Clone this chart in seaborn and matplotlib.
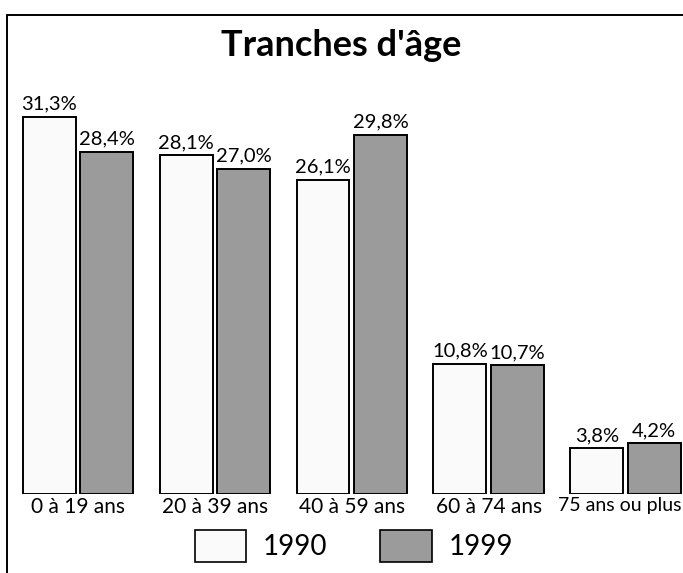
"""
Tranches d'âge : répartition de la population par âge, 1990 vs 1999.
Output: out.png
"""
import pandas as pd
import matplotlib.pyplot as plt
import matplotlib.transforms as mtransforms
import seaborn as sns
from matplotlib.patches import Patch
from matplotlib.lines import Line2D

FIG_PATH = "out.png"

categories = ["0 à 19 ans", "20 à 39 ans", "40 à 59 ans", "60 à 74 ans", "75 ans ou plus"]
years = ["1990", "1999"]
values_1990 = [31.3, 28.1, 26.1, 10.8, 3.8]
values_1999 = [28.4, 27.0, 29.8, 10.7, 4.2]

COLORS = {"1990": "#fafafa", "1999": "#9b9b9b"}
FONT = ["Lato", "DejaVu Sans"]


def main():
    df = pd.DataFrame({
        "tranche": categories * 2,
        "annee": ["1990"] * len(categories) + ["1999"] * len(categories),
        "valeur": values_1990 + values_1999,
    })

    sns.set_style("white")
    plt.rcParams["font.family"] = FONT
    plt.rcParams["text.color"] = "black"
    plt.rcParams["xtick.color"] = "black"

    fig = plt.figure(figsize=(6.83, 5.73), dpi=100)
    ax = fig.add_axes([0.0, 79 / 573, 1.0, 494 / 573])

    sns.barplot(data=df, x="tranche", y="valeur", hue="annee", order=categories,
                hue_order=years, palette=COLORS, width=0.84, gap=0.08,
                edgecolor="black", linewidth=1.4, ax=ax, legend=False)

    for cont, vals in zip(ax.containers, [values_1990, values_1999]):
        labels = [f"{v:.1f}%".replace(".", ",") for v in vals]
        ax.bar_label(cont, labels=labels, padding=3, fontsize=14.5, color="black")

    ax.set_xlim(-0.57, 4.42)
    ax.set_ylim(0, 41.0)
    ax.set_xlabel("")
    ax.set_ylabel("")
    ax.set_yticks([])
    ax.tick_params(axis="x", length=0, pad=2, labelsize=15)
    for s in ax.spines.values():
        s.set_visible(False)
    # le dernier libellé touche le bord droit : un peu plus petit et décalé
    last = ax.get_xticklabels()[-1]
    last.set_fontsize(14)
    last.set_transform(last.get_transform() +
                       mtransforms.ScaledTranslation(-6 / 100, 0, fig.dpi_scale_trans))

    fig.text(0.5, 1 - 46 / 573, "Tranches d'âge", ha="center", va="center",
             fontsize=26, fontweight="bold")

    handles = [Patch(facecolor=COLORS[y], edgecolor="black", linewidth=1.2) for y in years]
    fig.legend(handles, years, loc="center", bbox_to_anchor=(354 / 683, 1 - 546 / 573),
               ncol=2, frameon=False, fontsize=20, handlelength=1.85, handleheight=1.45,
               handletextpad=0.6, columnspacing=1.9)

    # cadre
    fig.add_artist(Line2D([7 / 683, 7 / 683], [0, 1 - 15 / 573], color="black",
                          linewidth=1.4, transform=fig.transFigure))
    fig.add_artist(Line2D([7 / 683, 1], [1 - 15 / 573, 1 - 15 / 573], color="black",
                          linewidth=1.4, transform=fig.transFigure))

    fig.savefig(FIG_PATH, dpi=100)
    plt.close()
    print(f"Saved {FIG_PATH}")


if __name__ == "__main__":
    main()
